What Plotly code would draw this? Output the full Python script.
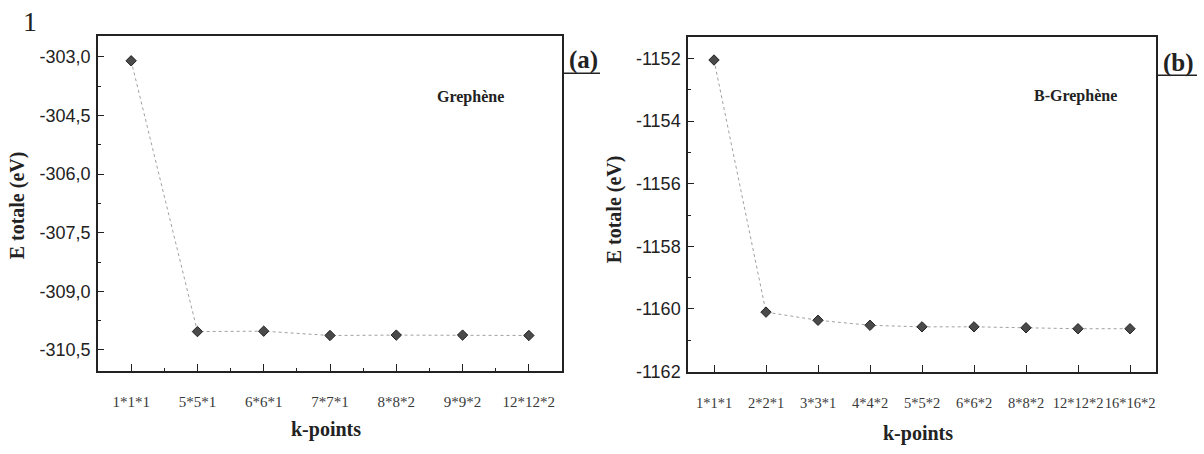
import plotly.graph_objects as go

# ---------------- data ----------------
kpoints_a = ["1*1*1", "5*5*1", "6*6*1", "7*7*1", "8*8*2", "9*9*2", "12*12*2"]
energy_a = [-303.1, -310.03, -310.02, -310.13, -310.12, -310.12, -310.13]

kpoints_b = ["1*1*1", "2*2*1", "3*3*1", "4*4*2", "5*5*2", "6*6*2", "8*8*2", "12*12*2", "16*16*2"]
energy_b = [-1152.05, -1160.10, -1160.36, -1160.52, -1160.57, -1160.57, -1160.60, -1160.63, -1160.63]

yticks_a = [-303.0, -304.5, -306.0, -307.5, -309.0, -310.5]
yticklabels_a = ["-303,0", "-304,5", "-306,0", "-307,5", "-309,0", "-310,5"]
yticks_b = [-1152, -1154, -1156, -1158, -1160, -1162]
yticklabels_b = ["-1152", "-1154", "-1156", "-1158", "-1160", "-1162"]

# ---------------- layout helpers ----------------
W, H = 1204, 454


def fx(p):
    return p / W


def fy(p):
    return 1 - p / H


SERIF = "Liberation Serif"
SANS = "Liberation Sans"

xa = list(range(len(kpoints_a)))
xb = list(range(len(kpoints_b)))

line_style = dict(color="#a0a0a0", width=1, dash="dot")
marker_style = dict(symbol="diamond", size=8, color="#4a4a4a", line=dict(color="#222222", width=1))

fig = go.Figure()
fig.add_trace(go.Scatter(x=xa, y=energy_a, mode="lines+markers", line=line_style,
                         marker=marker_style, xaxis="x", yaxis="y", showlegend=False))
fig.add_trace(go.Scatter(x=xb, y=energy_b, mode="lines+markers", line=line_style,
                         marker=marker_style, xaxis="x2", yaxis="y2", showlegend=False))

axis_common = dict(showgrid=False, zeroline=False, showline=True, mirror=True,
                   linecolor="#222222", linewidth=1.5, ticks="inside",
                   tickcolor="#222222", tickwidth=1.2)

xtickfont_a = dict(family=SERIF, size=15, color="#3a3a3a")
xtickfont_b = dict(family=SERIF, size=14.5, color="#3a3a3a")
ytickfont = dict(family=SANS, size=18, color="#222222")

fig.update_layout(
    width=W, height=H,
    margin=dict(l=0, r=0, t=0, b=0),
    paper_bgcolor="white", plot_bgcolor="white",
    xaxis=dict(domain=[fx(98), fx(562)], range=[-0.5, len(kpoints_a) - 0.5],
               tickmode="array", tickvals=xa, ticktext=kpoints_a, ticklen=7,
               tickangle=0, tickfont=xtickfont_a, ticklabelstandoff=17, anchor="y",
               minor=dict(tickmode="linear", tick0=-0.5, dtick=1, ticklen=3,
                          ticks="inside", tickcolor="#222222"),
               **axis_common),
    yaxis=dict(domain=[fy(379), fy(37)], range=[-311.03, -302.47],
               tickmode="array", tickvals=yticks_a, ticktext=yticklabels_a, ticklen=6,
               tickfont=ytickfont, ticklabelstandoff=2, anchor="x",
               minor=dict(tickmode="linear", tick0=-303.75, dtick=1.5, ticklen=3,
                          ticks="inside", tickcolor="#222222"),
               **axis_common),
    xaxis2=dict(domain=[fx(688), fx(1156)], range=[-0.5, len(kpoints_b) - 0.5],
                tickmode="array", tickvals=xb, ticktext=kpoints_b, ticklen=7,
                tickangle=0, tickfont=xtickfont_b, ticklabelstandoff=17, anchor="y2",
                **axis_common),
    yaxis2=dict(domain=[fy(380), fy(38)], range=[-1162.0, -1151.32],
                tickmode="array", tickvals=yticks_b, ticktext=yticklabels_b, ticklen=6,
                tickfont=ytickfont, ticklabelstandoff=2, anchor="x2",
                minor=dict(tickmode="linear", tick0=-1153, dtick=2, ticklen=3,
                           ticks="inside", tickcolor="#222222"),
                **axis_common),
)

title_font = dict(family=SERIF, size=20, color="#222222")
ann = []
# axis titles
ann.append(dict(text="<b>E totale (eV)</b>", x=fx(17), y=fy(210), textangle=-90,
                font=title_font))
ann.append(dict(text="<b>E totale (eV)</b>", x=fx(614), y=fy(214), textangle=-90,
                font=title_font))
ann.append(dict(text="<b>k-points</b>", x=fx(326), y=fy(439), font=title_font))
ann.append(dict(text="<b>k-points</b>", x=fx(918), y=fy(443), font=title_font))
# labels inside plots
ann.append(dict(text="<b>Grephène</b>", x=fx(470), y=fy(99),
                font=dict(family=SERIF, size=16, color="#222222")))
ann.append(dict(text="<b>B-Grephène</b>", x=fx(1075), y=fy(98),
                font=dict(family=SERIF, size=16, color="#222222")))
# panel letters
ann.append(dict(text="<b>(a)</b>", x=fx(583), y=fy(61),
                font=dict(family=SERIF, size=25, color="#222222")))
ann.append(dict(text="<b>(b)</b>", x=fx(1178), y=fy(64),
                font=dict(family=SERIF, size=25, color="#222222")))
ann.append(dict(text="1", x=fx(30), y=fy(22),
                font=dict(family=SERIF, size=28, color="#222222")))

for a in ann:
    a.update(xref="paper", yref="paper", showarrow=False, xanchor="center", yanchor="middle")
fig.update_layout(annotations=ann)

# underlines of panel letters
fig.update_layout(shapes=[
    dict(type="line", xref="paper", yref="paper", x0=fx(562), x1=fx(600), y0=fy(75), y1=fy(75),
         line=dict(color="#222222", width=1.5)),
    dict(type="line", xref="paper", yref="paper", x0=fx(1156), x1=fx(1197), y0=fy(77), y1=fy(77),
         line=dict(color="#222222", width=1.5)),
])

fig.write_html("out.html")
